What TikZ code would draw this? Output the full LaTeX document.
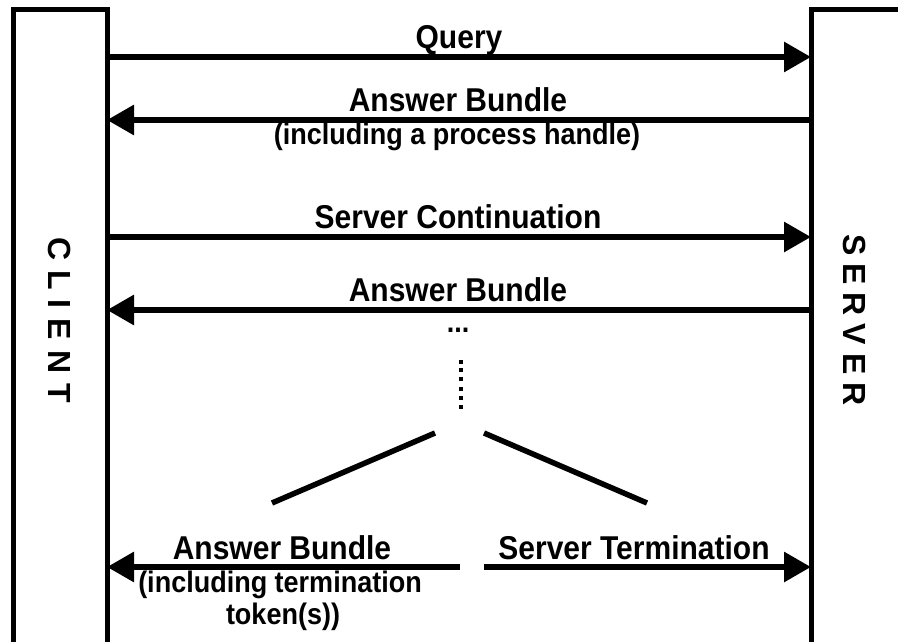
\documentclass[tikz,border=0pt]{standalone}
\usepackage{fontspec}
\setmainfont{Liberation Sans}
\usetikzlibrary{arrows.meta}
\begin{document}
\begin{tikzpicture}[x=1pt,y=-1pt,
  wall/.style={line width=5pt,line cap=rect},
  msg/.style={line width=6pt,-{Triangle[length=27pt,width=29pt]}},
  plain/.style={line width=5.5pt},
  title/.style={inner sep=0pt,anchor=base,yscale=1.1,transform shape,font=\fontsize{30}{36}\selectfont\bfseries},
  sub/.style={inner sep=0pt,anchor=base,yscale=1.1,transform shape,font=\fontsize{27}{32}\selectfont\bfseries},
  side/.style={inner sep=0pt,rotate=-90,font=\fontsize{32}{36}\selectfont\bfseries},
  dot/.style={fill=black,inner sep=0pt,minimum width=4pt,minimum height=4pt}]
\useasboundingbox (0,0) rectangle (898,642);
% walls
\draw[wall] (13,660) -- (13,10) -- (107,10) -- (107,660);
\draw[wall] (811,660) -- (811,10) -- (910,10);
\node[side] (client) at (60,320) {C\hspace{10pt}L\hspace{10pt}I\hspace{10pt}E\hspace{10pt}N\hspace{10pt}T};
\node[side] (server) at (855,320) {S\hspace{8pt}E\hspace{8pt}R\hspace{8pt}V\hspace{8pt}E\hspace{8pt}R};
% coordinates
\coordinate (c1) at (107,57);  \coordinate (s1) at (811,57);
\coordinate (c2) at (107,120); \coordinate (s2) at (811,120);
\coordinate (c3) at (107,237); \coordinate (s3) at (811,237);
\coordinate (c4) at (107,310); \coordinate (s4) at (811,310);
\coordinate (c5) at (107,567); \coordinate (m5) at (460,567);
\coordinate (m6) at (484,567); \coordinate (s6) at (811,567);
% messages
\draw[msg] (c1) -- (s1);
\node[title] (q) at (459,49) {Query};
\draw[msg] (s2) -- (c2);
\node[title] (ab1) at (458,112) {Answer Bundle};
\node[sub] (ph) at (457,145) {(including a process handle)};
\draw[msg] (c3) -- (s3);
\node[title] (sc) at (458,228) {Server Continuation};
\draw[msg] (s4) -- (c4);
\node[title] (ab2) at (458,301) {Answer Bundle};
\node[sub] (hd) at (458,332) {...};
\foreach \yy in {362,370,379,389,398,407} \node[dot] at (461,\yy) {};
\draw[plain] (272,503) -- (435,433);
\draw[plain] (484,433) -- (647,503);
\draw[msg] (m5) -- (c5);
\draw[msg] (m6) -- (s6);
\node[title] (ab3) at (282,559) {Answer Bundle};
\node[sub] (tt1) at (280,592) {(including termination};
\node[sub] (tt2) at (283,624) {token(s))};
\node[title] (st) at (634,559) {Server Termination};
\end{tikzpicture}
\end{document}
